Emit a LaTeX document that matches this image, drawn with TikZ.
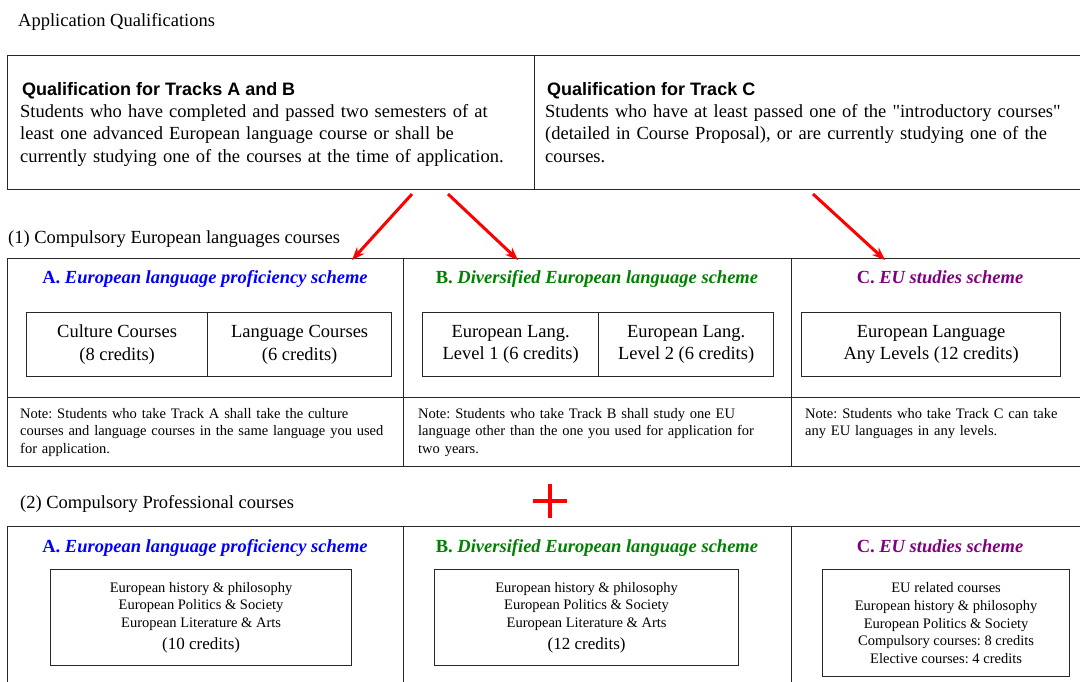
\documentclass[tikz,border=0pt]{standalone}
\usepackage{fontspec}
\setmainfont{Liberation Serif}
\newfontfamily\qualsans{Liberation Sans}
\newfontfamily\rawserif{Liberation Serif}[Ligatures=TeXOff]
\usetikzlibrary{arrows.meta}
\frenchspacing

\definecolor{trackA}{RGB}{0,0,255}
\definecolor{trackB}{RGB}{0,128,0}
\definecolor{trackC}{RGB}{128,0,128}
\definecolor{frame}{RGB}{40,40,40}

\newcommand\bigsize{\fontsize{18.5}{22.5}\selectfont}
\newcommand\notesize{\fontsize{14.5}{17.5}\selectfont}
\newcommand\listsize{\fontsize{14.5}{17.7}\selectfont}
\newcommand\dq{{\rawserif"}}

\begin{document}
\begin{tikzpicture}[x=1pt,y=-1pt,
    cell/.style={draw=frame,line width=1.2pt,anchor=north west,inner sep=0pt},
    scheme/.style={anchor=base,inner sep=0pt,font=\fontsize{18.5}{22}\selectfont},
    plain/.style={anchor=base west,inner sep=0pt},
    redarrow/.style={draw=red,line width=3pt,-{Stealth[length=13pt,width=10pt]}}]

        \clip (0,0) rectangle (1080,681);

        \node[plain,font=\bigsize] (apptitle) at (18,26) {Application Qualifications};

        \begin{scope}[every node/.style={cell}]
          \node[minimum width=527,minimum height=134] (qAB) at (7,55)    {};
          \node[minimum width=548,minimum height=134] (qC)  at (534,55)  {};
          \node[minimum width=396,minimum height=139] (mA)  at (7,258)   {};
          \node[minimum width=388,minimum height=139] (mB)  at (403,258) {};
          \node[minimum width=292,minimum height=139] (mC)  at (791,258) {};
          \node[minimum width=396,minimum height=69]  (nA)  at (7,397)   {};
          \node[minimum width=388,minimum height=69]  (nB)  at (403,397) {};
          \node[minimum width=292,minimum height=69]  (nC)  at (791,397) {};
          \node[minimum width=396,minimum height=170] (pA)  at (7,526)   {};
          \node[minimum width=388,minimum height=170] (pB)  at (403,526) {};
          \node[minimum width=292,minimum height=170] (pC)  at (791,526) {};
        \end{scope}

        \begin{scope}[every node/.style={plain}]
          \node[font=\qualsans\bfseries\fontsize{18}{22}\selectfont] (qABhead) at (22,95)  {Qualification for Tracks A and B};
          \node[font=\qualsans\bfseries\fontsize{18}{22}\selectfont] (qChead)  at (547,95) {Qualification for Track C};
          \node[font=\bigsize,text width=510,align=left] (qABtext) at (20,117)
            {Students who have completed and passed two semesters of at\\
             least one advanced European language course or shall be\\
             currently studying one of the courses at the time of application.};
          \node[font=\bigsize,text width=530,align=left] (qCtext) at (545,117)
            {Students who have at least passed one of the \dq introductory courses\dq\\
             (detailed in Course Proposal), or are currently studying one of the\\
             courses.};
          \node[font=\bigsize] (part1) at (8,243) {(1) Compulsory European languages courses};
          \node[font=\bigsize] (part2) at (20,508) {(2) Compulsory Professional courses};
          \node[font=\notesize,text width=380,align=left] (noteA) at (20,418)
            {Note: Students who take Track A shall take the culture\\
             courses and language courses in the same language you used\\
             for application.};
          \node[font=\notesize,text width=370,align=left] (noteB) at (418,418)
            {Note: Students who take Track B shall study one EU\\
             language other than the one you used for application for\\
             two years.};
          \node[font=\notesize,text width=270,align=left] (noteC) at (805,418)
            {Note: Students who take Track C can take\\
             any EU languages in any levels.};
        \end{scope}

        \begin{scope}[every node/.style={scheme}]
          \node[text=trackA] (hA1) at (205,283) {\bfseries A. \itshape European language proficiency scheme};
          \node[text=trackB] (hB1) at (597,283) {\bfseries B. \itshape Diversified European language scheme};
          \node[text=trackC] (hC1) at (940,283) {\bfseries C. \itshape EU studies scheme};
          \node[text=trackA] (hA2) at (205,552) {\bfseries A. \itshape European language proficiency scheme};
          \node[text=trackB] (hB2) at (597,552) {\bfseries B. \itshape Diversified European language scheme};
          \node[text=trackC] (hC2) at (940,552) {\bfseries C. \itshape EU studies scheme};
        \end{scope}

        \begin{scope}[every node/.style={cell,align=center,font=\bigsize}]
          \node[minimum width=181,minimum height=64] (culture) at (26,312)  {Culture Courses\\(8 credits)};
          \node[minimum width=184,minimum height=64] (langc)   at (207,312) {Language Courses\\(6 credits)};
          \node[minimum width=176,minimum height=64] (level1)  at (422,312) {European Lang.\\Level 1 (6 credits)};
          \node[minimum width=175,minimum height=64] (level2)  at (598,312) {European Lang.\\Level 2 (6 credits)};
          \node[minimum width=259,minimum height=64] (anylev)  at (801,312) {European Language\\Any Levels (12 credits)};
        \end{scope}

        \begin{scope}[every node/.style={cell,align=center,font=\listsize}]
          \node[minimum width=301,minimum height=96] (profA) at (50,569)
            {European history \& philosophy\\European Politics \& Society\\European Literature \& Arts\\[4pt]
             {\fontsize{17}{20}\selectfont (10 credits)}};
          \node[minimum width=304,minimum height=96] (profB) at (434,569)
            {European history \& philosophy\\European Politics \& Society\\European Literature \& Arts\\[4pt]
             {\fontsize{17}{20}\selectfont (12 credits)}};
          \node[minimum width=247,minimum height=107] (profC) at (822,569)
            {EU related courses\\European history \& philosophy\\European Politics \& Society\\
             Compulsory courses: 8 credits\\Elective courses: 4 credits};
        \end{scope}

        \coordinate (fromA) at (412,194);
        \coordinate (toA)   at (352,260);
        \coordinate (fromB) at (448,194);
        \coordinate (toB)   at (518,260);
        \coordinate (fromC) at (813,194);
        \coordinate (toC)   at (885,260);
        \draw[redarrow] (fromA) -- (toA);
        \draw[redarrow] (fromB) -- (toB);
        \draw[redarrow] (fromC) -- (toC);

        \draw[red,line width=3.5pt] (550,501) +(-17,0) -- +(17,0) +(0,-17) -- +(0,17);

      \end{tikzpicture}
\end{document}
